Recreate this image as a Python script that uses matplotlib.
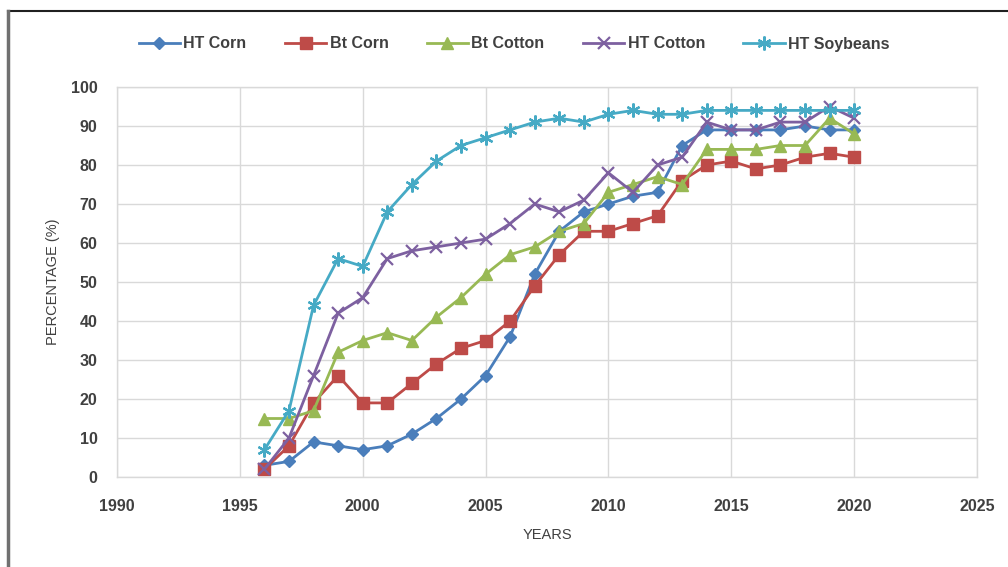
import matplotlib
matplotlib.use("Agg")
import matplotlib.pyplot as plt
from matplotlib.lines import Line2D

years = list(range(1996, 2021))

ht_corn = [3, 4, 9, 8, 7, 8, 11, 15, 20, 26, 36, 52, 63, 68, 70, 72, 73, 85, 89, 89, 89, 89, 90, 89, 89]
bt_corn = [2, 8, 19, 26, 19, 19, 24, 29, 33, 35, 40, 49, 57, 63, 63, 65, 67, 76, 80, 81, 79, 80, 82, 83, 82]
bt_cotton = [15, 15, 17, 32, 35, 37, 35, 41, 46, 52, 57, 59, 63, 65, 73, 75, 77, 75, 84, 84, 84, 85, 85, 92, 88]
ht_cotton = [2, 10, 26, 42, 46, 56, 58, 59, 60, 61, 65, 70, 68, 71, 78, 73, 80, 82, 91, 89, 89, 91, 91, 95, 92]
ht_soy = [7, 17, 44, 56, 54, 68, 75, 81, 85, 87, 89, 91, 92, 91, 93, 94, 93, 93, 94, 94, 94, 94, 94, 94, 94]

series_names = ["HT Corn", "Bt Corn", "Bt Cotton", "HT Cotton", "HT Soybeans"]
x_ticks = [1990, 1995, 2000, 2005, 2010, 2015, 2020, 2025]
y_ticks = [0, 10, 20, 30, 40, 50, 60, 70, 80, 90, 100]

plt.rcParams['font.family'] = ['Liberation Sans Narrow', 'Liberation Sans', 'DejaVu Sans']

fig = plt.figure(figsize=(10.08, 5.67), dpi=100)
ax = fig.add_axes([117/1008, 1 - 477/567, (977-117)/1008, (477-87)/567])

styles = [
    dict(color="#4A7EBB", marker="D", ms=6.5),
    dict(color="#BE4B48", marker="s", ms=9),
    dict(color="#98B954", marker="^", ms=9),
    dict(color="#7D60A0", marker="x", ms=8, mew=1.6),
    dict(color="#46AAC5", marker=(6, 2, 0), ms=10, mew=1.6),
]
data = [ht_corn, bt_corn, bt_cotton, ht_cotton, ht_soy]
handles = []
for name, vals, st in zip(series_names, data, styles):
    mew = st.get("mew", 1)
    ln, = ax.plot(years, vals, color=st["color"], lw=2, marker=st["marker"],
                  ms=st["ms"], mfc=st["color"], mec=st["color"], mew=mew, label=name,
                  clip_on=False)
    handles.append(ln)

ax.set_xlim(1990, 2025)
ax.set_ylim(0, 100)
ax.set_xticks(x_ticks)
ax.set_yticks(y_ticks)
ax.grid(True, color="#D9D9D9", lw=1)
ax.set_axisbelow(True)
for s in ax.spines.values():
    s.set_color("#D9D9D9")
    s.set_linewidth(1)
ax.tick_params(axis="x", length=0, labelsize=11.5, colors="#404040", pad=16)
ax.tick_params(axis="y", length=0, labelsize=11.5, colors="#404040", pad=14)
for lab in ax.get_xticklabels() + ax.get_yticklabels():
    lab.set_fontweight("bold")

ax.set_xlabel("YEARS", fontsize=10.5, color="#404040", labelpad=10)
ax.set_ylabel("PERCENTAGE (%)", fontsize=10.5, color="#404040", labelpad=8)

leg = fig.legend(handles=handles, labels=series_names, loc="center",
                 bbox_to_anchor=(0.51, 1 - 44/567), ncol=5, frameon=False,
                 fontsize=11.5, handlelength=2.6, columnspacing=2.4, handletextpad=0.2)
for t in leg.get_texts():
    t.set_color("#404040")
    t.set_fontweight("bold")

# outer border lines (top and left)
fig.add_artist(Line2D([8/1008, 1], [1 - 11/567, 1 - 11/567], color="#202020", lw=1.5,
                      transform=fig.transFigure))
fig.add_artist(Line2D([8/1008, 8/1008], [0, 1 - 11/567], color="#707070", lw=2.5,
                      transform=fig.transFigure))

fig.savefig("out.png", dpi=100)
